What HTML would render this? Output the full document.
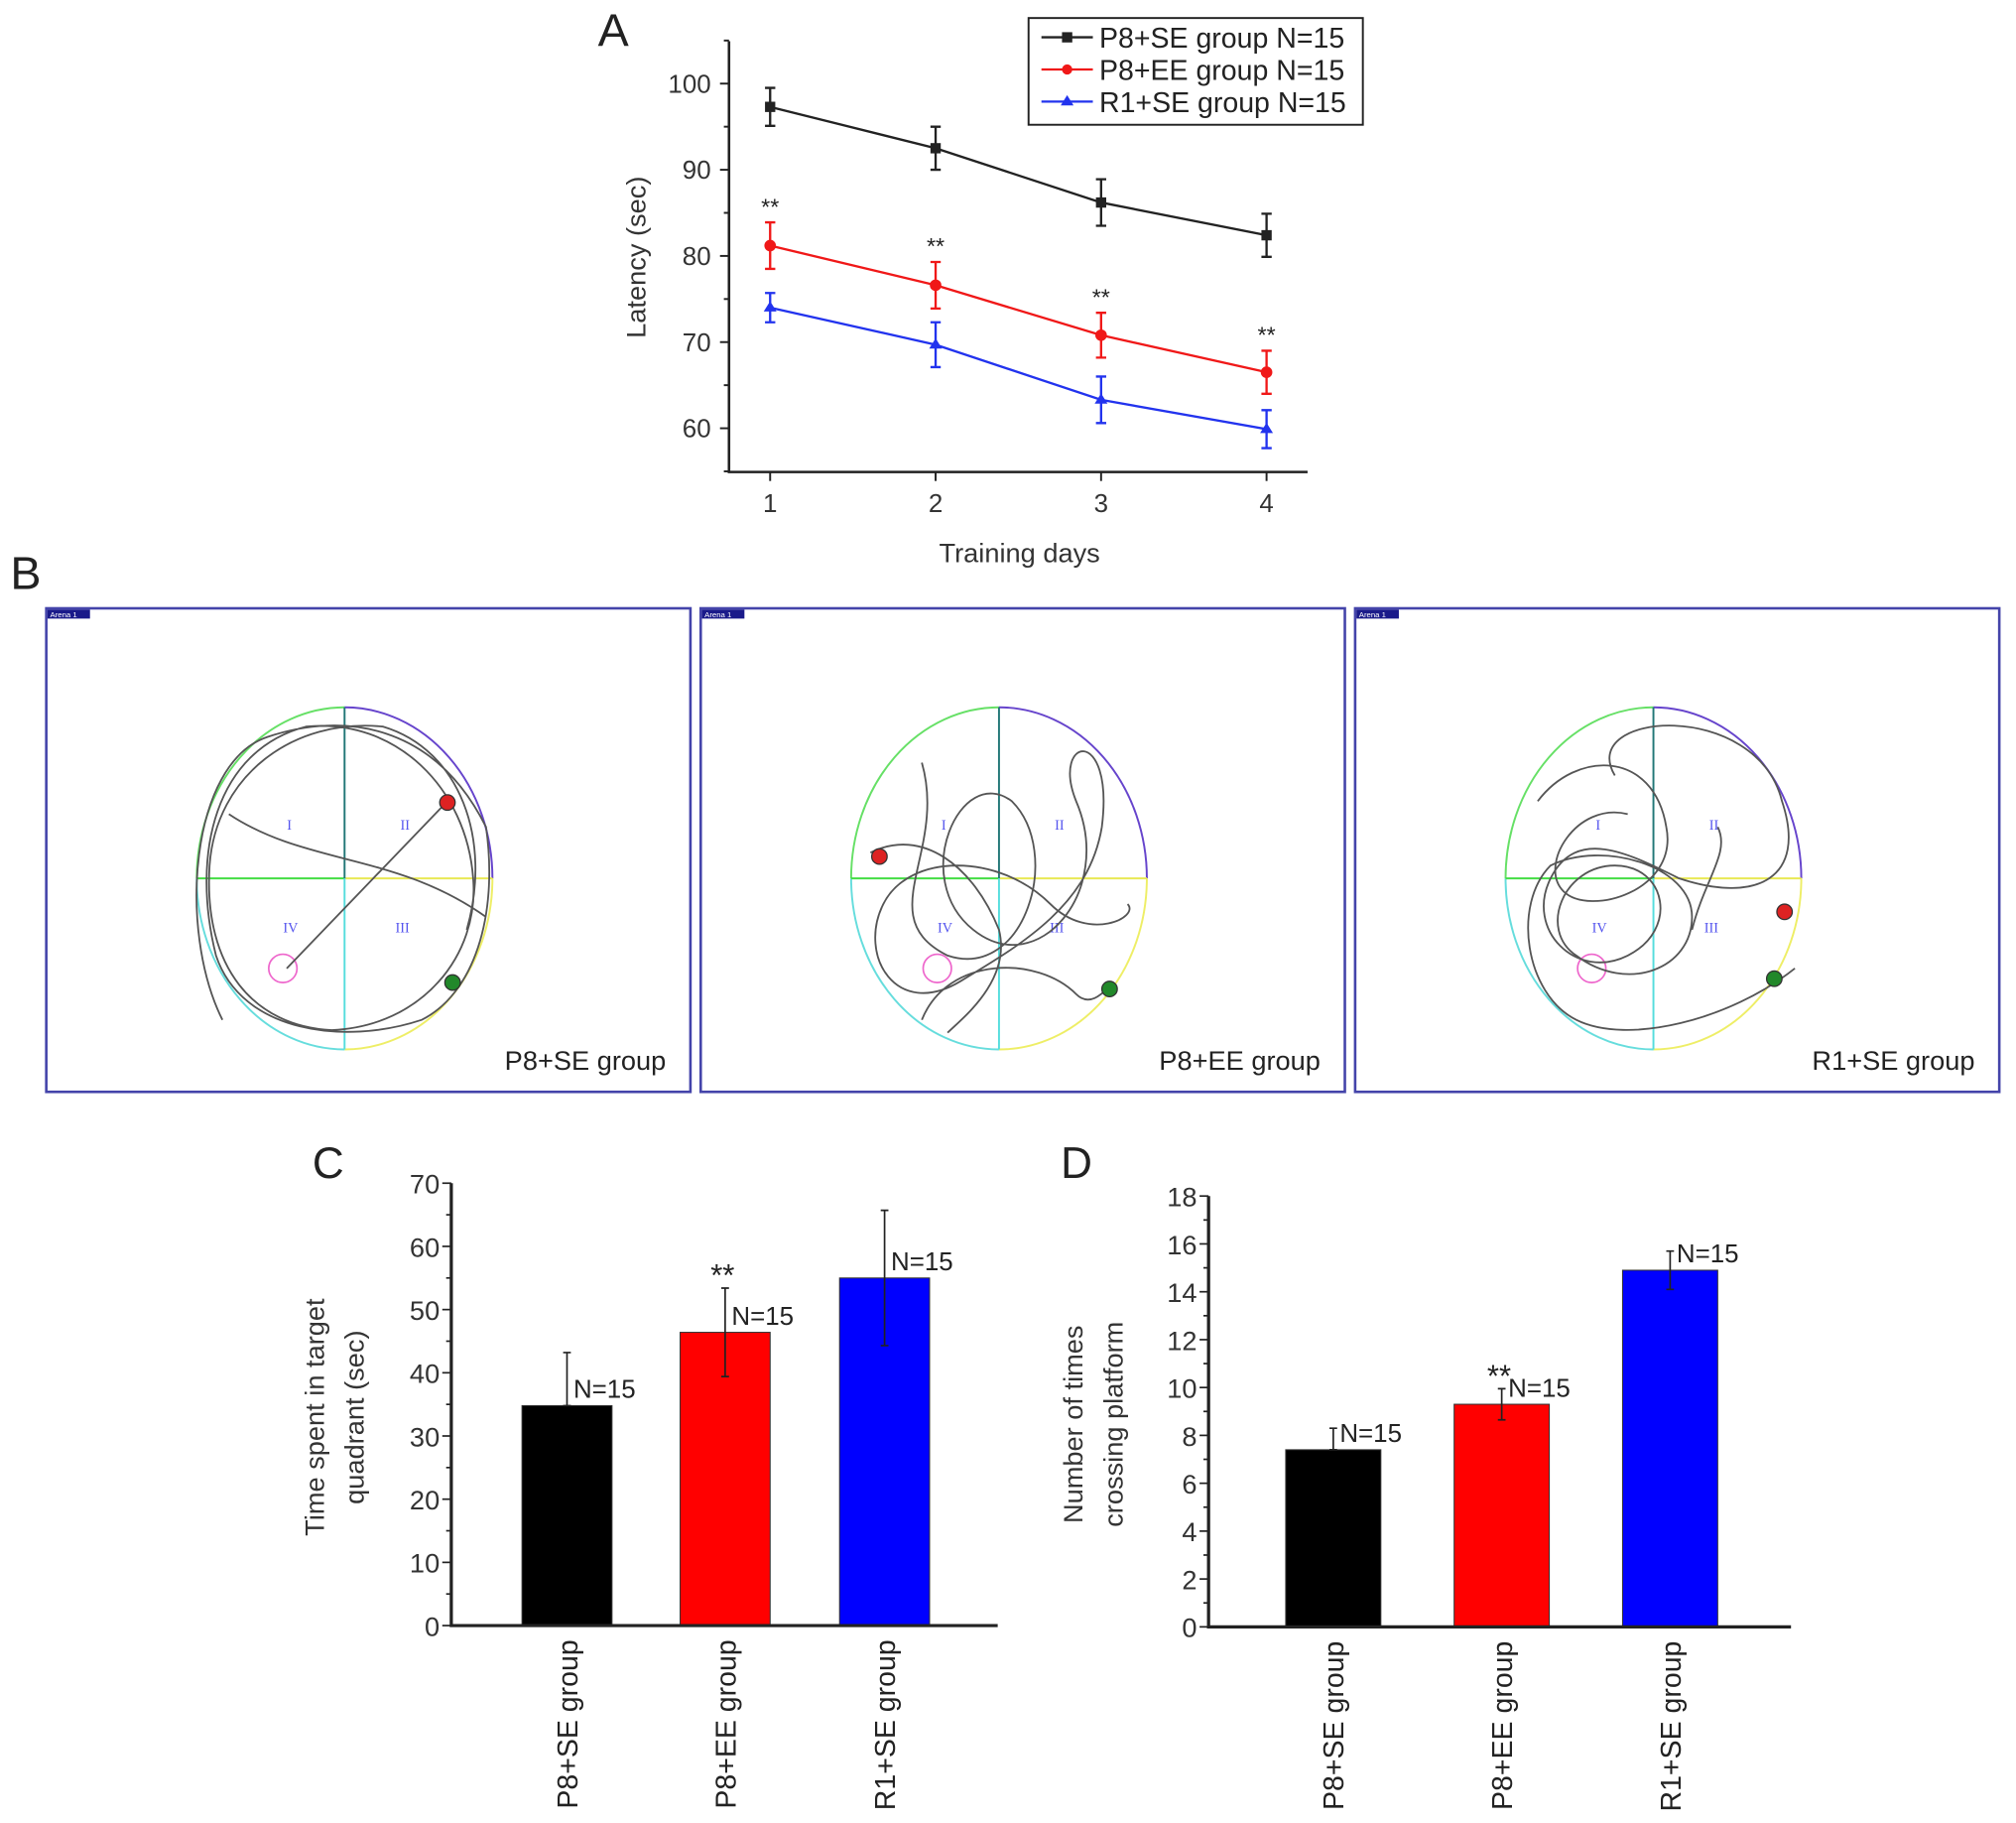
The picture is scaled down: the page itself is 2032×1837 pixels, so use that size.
<!DOCTYPE html>
<html><head><meta charset="utf-8"><style>
html,body{margin:0;padding:0;background:#fff}
svg{display:block;font-family:"Liberation Sans",Arial,sans-serif}
</style></head><body>
<svg id="fig" width="2032" height="1837" viewBox="0 0 1568 1417.5" xmlns="http://www.w3.org/2000/svg">
<g id="pA"></g>
<g id="pB"></g>
<g id="pC"></g>
<g id="pD"></g>
</svg>
<script>
// ---- Panel A data ----
const daysA = [1, 2, 3, 4];
const seriesNamesA = ["P8+SE group N=15", "P8+EE group N=15", "R1+SE group N=15"];
const blackMeanA = [97.3, 92.5, 86.2, 82.4];
const blackErrA = [2.2, 2.5, 2.7, 2.5];
const redMeanA = [81.2, 76.6, 70.8, 66.5];
const redErrA = [2.7, 2.7, 2.6, 2.5];
const blueMeanA = [74.0, 69.7, 63.3, 59.9];
const blueErrA = [1.7, 2.6, 2.7, 2.2];
const yTicksA = [60, 70, 80, 90, 100];
// ---- Panel C data ----
const groupsC = ["P8+SE group", "P8+EE group", "R1+SE group"];
const valuesC = [34.8, 46.4, 55.0];
const errsC = [8.4, 7.0, 10.7];
const yTicksC = [0, 10, 20, 30, 40, 50, 60, 70];
// ---- Panel D data ----
const groupsD = ["P8+SE group", "P8+EE group", "R1+SE group"];
const valuesD = [7.4, 9.3, 14.9];
const errsD = [0.9, 0.65, 0.8];
const yTicksD = [0, 2, 4, 6, 8, 10, 12, 14, 16, 18];

const NS = "http://www.w3.org/2000/svg";
function mk(parent, tag, attrs, text) {
  const e = document.createElementNS(NS, tag);
  for (const k in attrs) e.setAttribute(k, attrs[k]);
  if (text !== undefined) e.textContent = text;
  parent.appendChild(e);
  return e;
}

// ================= Panel A =================
(function(){
  const g = document.getElementById('pA');
  const x = d => 599 + (d - 1) * 128.7;
  const y = v => 65 + (100 - v) * 6.7;
  let t = mk(g,'text',{x:465,y:36,'font-size':36,fill:'#222'},'A');
   
  let ax = mk(g,'path',{d:'M567,32 V367 H1017',fill:'none',stroke:'#222','stroke-width':2});
   
  for (let v = 55; v <= 105; v += 5) {
    const major = v % 10 === 0;
    const tk = mk(g,'line',{x1:567,x2:major?560:563,y1:y(v),y2:y(v),stroke:'#222','stroke-width':1.5});
     
  }
  yTicksA.forEach(v => {
    const l = mk(g,'text',{x:553,y:y(v)+7,'font-size':20,'text-anchor':'end',fill:'#333'},String(v));
     
  });
  daysA.forEach(d => {
    const tk = mk(g,'line',{x1:x(d),x2:x(d),y1:367,y2:374,stroke:'#222','stroke-width':1.5});
     
    const l = mk(g,'text',{x:x(d),y:398,'font-size':20,'text-anchor':'middle',fill:'#333'},String(d));
     
  });
  let yt = mk(g,'text',{x:0,y:0,'font-size':21,'text-anchor':'middle',fill:'#333',transform:'translate(502,200) rotate(-90)'},'Latency (sec)');
   
  let xt = mk(g,'text',{x:793,y:437,'font-size':21,'text-anchor':'middle',fill:'#333'},'Training days');
   

  const series = [[blackMeanA,blackErrA,'#222','sq'],[redMeanA,redErrA,'#f01818','ci'],[blueMeanA,blueErrA,'#2233ee','tr']];
  series.forEach((s, si) => {
    const [m, e, c, mkr] = s;
    const sg = mk(g,'g',{});
     
    const pl = mk(sg,'polyline',{points:daysA.map((d,i)=>x(d)+','+y(m[i])).join(' '),fill:'none',stroke:c,'stroke-width':1.8});
     
    daysA.forEach((d,i) => {
      const eb = mk(sg,'path',{d:`M${x(d)},${y(m[i]+e[i])} V${y(m[i]-e[i])} M${x(d)-4},${y(m[i]+e[i])} h8 M${x(d)-4},${y(m[i]-e[i])} h8`,stroke:c,'stroke-width':1.8,fill:'none'});
       
      let p;
      if (mkr==='sq') p = mk(sg,'rect',{x:x(d)-4,y:y(m[i])-4,width:8,height:8,fill:c});
      else if (mkr==='ci') p = mk(sg,'circle',{cx:x(d),cy:y(m[i]),r:4.5,fill:c});
      else p = mk(sg,'path',{d:`M${x(d)},${y(m[i])-5} l5,8 h-10 z`,fill:c});
       
      if (si===1) {
        const st = mk(sg,'text',{x:x(d),y:y(m[i]+e[i])-6,'font-size':18,'text-anchor':'middle',fill:'#222'},'**');
         
      }
    });
  });
  const lg = mk(g,'g',{});
   
  mk(lg,'rect',{x:800,y:14,width:260,height:83,fill:'#fff',stroke:'#222','stroke-width':1.5});
  series.forEach((s,i) => {
    const yy = 29 + i*25;
    const le = mk(lg,'g',{});
     
    mk(le,'line',{x1:810,x2:850,y1:yy,y2:yy,stroke:s[2],'stroke-width':1.8});
    if (s[3]==='sq') mk(le,'rect',{x:826,y:yy-4,width:8,height:8,fill:s[2]});
    else if (s[3]==='ci') mk(le,'circle',{cx:830,cy:yy,r:4,fill:s[2]});
    else mk(le,'path',{d:`M830,${yy-5} l5,8 h-10 z`,fill:s[2]});
    mk(le,'text',{x:855,y:yy+8,'font-size':22,fill:'#222'},seriesNamesA[i]);
  });
})();

// ================= Panel B =================
(function(){
  const g = document.getElementById('pB');
  let t = mk(g,'text',{x:8,y:458,'font-size':36,fill:'#222'},'B');
   
  const labels = ['P8+SE group','P8+EE group','R1+SE group'];
  const tracks = [
    'M-95,110 C-130,40 -120,-90 -60,-110 C0,-130 70,-120 110,-40 C120,30 100,90 60,110 C0,130 -80,120 -100,60 C-120,-20 -100,-100 -30,-118 C40,-125 95,-70 100,0 C105,60 60,115 -10,118 C-70,115 -110,70 -105,-10 C-100,-80 -40,-125 30,-118 C90,-100 115,-30 95,40 M-45,70 L80,-60 M-90,-50 C-30,-10 40,-20 110,30',
    'M-60,-90 C-40,-20 -100,30 -40,60 C20,80 50,-20 10,-60 C-30,-90 -70,0 -20,40 C30,80 90,10 60,-60 C40,-110 90,-120 80,-40 C70,20 20,50 -30,80 C-80,110 -110,60 -90,20 C-70,-20 0,-20 40,20 C70,50 110,30 100,20 M-60,110 C-40,60 30,60 60,90 C70,100 80,90 85,85 M-100,-20 C-60,-40 -20,-10 0,40 C10,80 -30,110 -40,120',
    'M-30,-80 C-60,-130 80,-140 100,-60 C120,0 80,20 20,0 C-20,-20 -60,-40 -80,0 C-100,40 -60,80 -20,60 C20,40 10,-10 -30,-10 C-70,-10 -90,40 -60,60 C-20,90 30,70 30,30 C30,-10 -40,-30 -80,-10 C-110,20 -100,90 -60,110 C-20,130 60,110 110,70 M-90,-60 C-60,-100 0,-100 10,-40 C20,10 -50,30 -70,10 C-90,-10 -60,-60 -20,-50 M30,40 C40,0 60,-20 50,-40'
  ];
  [0,509,1018].forEach((ox,i) => {
    const pg = mk(g,'g',{});
     
    mk(pg,'rect',{x:36+ox,y:473,width:501,height:376,fill:'#fff',stroke:'#4444aa','stroke-width':2});
    mk(pg,'rect',{x:37+ox,y:474,width:33,height:7,fill:'#1a1a8a'});
    mk(pg,'text',{x:39+ox,y:480,'font-size':6,fill:'#fff'},'Arena 1');
    const cx = 268+ox, cy = 683, rx = 115, ry = 133;
    mk(pg,'path',{d:`M${cx-rx},${cy} A${rx},${ry} 0 0 1 ${cx},${cy-ry}`,fill:'none',stroke:'#66e066','stroke-width':1.5});
    mk(pg,'path',{d:`M${cx},${cy-ry} A${rx},${ry} 0 0 1 ${cx+rx},${cy}`,fill:'none',stroke:'#6644cc','stroke-width':1.5});
    mk(pg,'path',{d:`M${cx+rx},${cy} A${rx},${ry} 0 0 1 ${cx},${cy+ry}`,fill:'none',stroke:'#eeee66','stroke-width':1.5});
    mk(pg,'path',{d:`M${cx},${cy+ry} A${rx},${ry} 0 0 1 ${cx-rx},${cy}`,fill:'none',stroke:'#66dddd','stroke-width':1.5});
    mk(pg,'line',{x1:cx-rx,x2:cx,y1:cy,y2:cy,stroke:'#44dd44','stroke-width':1.5});
    mk(pg,'line',{x1:cx,x2:cx+rx,y1:cy,y2:cy,stroke:'#e8e855','stroke-width':1.5});
    mk(pg,'line',{x1:cx,x2:cx,y1:cy-ry,y2:cy,stroke:'#227777','stroke-width':1.5});
    mk(pg,'line',{x1:cx,x2:cx,y1:cy,y2:cy+ry,stroke:'#55dddd','stroke-width':1.5});
    [['I',-43,-38],['II',47,-38],['IV',-42,42],['III',45,42]].forEach(q=>{
      mk(pg,'text',{x:cx+q[1],y:cy+q[2],'font-size':11,'text-anchor':'middle',fill:'#5555ee','font-family':'Liberation Serif'},q[0]);
    });
    mk(pg,'circle',{cx:cx-48,cy:cy+70,r:11,fill:'none',stroke:'#ee66cc','stroke-width':1.3});
    const tr = mk(pg,'path',{d:tracks[i],transform:`translate(${cx},${cy})`,fill:'none',stroke:'#555','stroke-width':1.4});
     
    const ends = [[[80,-59],[84,81]],[[-93,-17],[86,86]],[[102,26],[94,78]]][i];
    mk(pg,'circle',{cx:cx+ends[0][0],cy:cy+ends[0][1],r:6,fill:'#dd2222',stroke:'#333','stroke-width':1});
    mk(pg,'circle',{cx:cx+ends[1][0],cy:cy+ends[1][1],r:6,fill:'#22882a',stroke:'#333','stroke-width':1});
    const l = mk(pg,'text',{x:518+ox,y:832,'font-size':21,'text-anchor':'end',fill:'#222'},labels[i]);
     
  });
})();

// ================= Bar charts =================
function barChart(gid, letter, lx, cfg) {
  const g = document.getElementById(gid);
  const { groups, values, errs, ticks, yTop, yBot, vmax, axX, axEnd, barX, barW, minorStep, titles, titleX, upOnly } = cfg;
  const y = v => yBot - v / vmax * (yBot - yTop);
  let t = mk(g,'text',{x:lx,y:916,'font-size':34,fill:'#222'},letter);
   
  groups.forEach((gn,i) => {
    const b = mk(g,'rect',{x:barX[i],y:y(values[i]),width:barW,height:yBot-y(values[i]),fill:['#000','#ff0000','#0000ff'][i],stroke:'#333','stroke-width':0.8});
     
    const cx = barX[i] + barW/2;
    const lo = upOnly[i] ? values[i] : values[i]-errs[i];
    const eb = mk(g,'path',{d:`M${cx},${y(values[i]+errs[i])} V${y(lo)} M${cx-3},${y(values[i]+errs[i])} h6 M${cx-3},${y(lo)} h6`,stroke:'#222','stroke-width':1.3,fill:'none'});
     
    const n = mk(g,'text',{x:cx+5,y:y(values[i])-6,'font-size':20,fill:'#222'},'N=15');
     
    if (i===1) {
      const st = mk(g,'text',{x:cx-2,y:y(values[i]+errs[i])-2,'font-size':24,'text-anchor':'middle',fill:'#222'},'**');
       
    }
    const cl = mk(g,'text',{x:0,y:0,'font-size':22,'text-anchor':'end',fill:'#222',transform:`translate(${cx+8},${yBot+11}) rotate(-90)`},gn);
     
  });
  const ax = mk(g,'path',{d:`M${axX},${yTop} V${yBot} H${axEnd}`,fill:'none',stroke:'#222','stroke-width':2.5});
   
  for (let v = 0; v <= vmax + 1e-9; v += minorStep) {
    const major = Math.abs((v / (minorStep*2)) - Math.round(v/(minorStep*2))) < 1e-6;
    const tk = mk(g,'line',{x1:axX,x2:axX-(major?7:4),y1:y(v),y2:y(v),stroke:'#222','stroke-width':1.3});
     
  }
  ticks.forEach(v => {
    const l = mk(g,'text',{x:axX-9,y:y(v)+8,'font-size':21,'text-anchor':'end',fill:'#333'},String(v));
     
  });
  const cy = (yTop+yBot)/2 + 10;
  titles.forEach((tt,i) => {
    const l = mk(g,'text',{x:0,y:0,'font-size':21,'text-anchor':'middle',fill:'#333',transform:`translate(${titleX+i*31},${cy}) rotate(-90)`},tt);
     
  });
}
barChart('pC','C',243,{groups:groupsC,values:valuesC,errs:errsC,ticks:yTicksC,yTop:920,yBot:1264,vmax:70,axX:351,axEnd:776,barX:[406,529,653],barW:70,minorStep:5,titles:['Time spent in target','quadrant (sec)'],titleX:252,upOnly:[true,false,false]});
barChart('pD','D',825,{groups:groupsD,values:valuesD,errs:errsD,ticks:yTicksD,yTop:930,yBot:1265,vmax:18,axX:940,axEnd:1393,barX:[1000,1131,1262],barW:74,minorStep:1,titles:['Number of times','crossing platform'],titleX:842,upOnly:[true,false,false]});
</script>
</body></html>
